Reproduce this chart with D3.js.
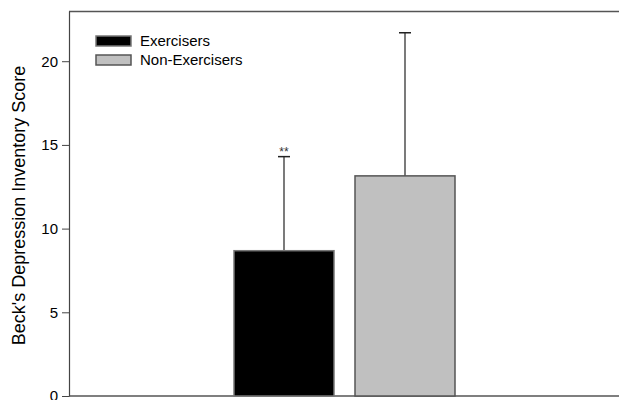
<!DOCTYPE html>
<html>
<head>
<meta charset="utf-8">
<script src="https://cdn.jsdelivr.net/npm/d3@7"></script>
<style>
  html, body { margin: 0; padding: 0; background: #fff; }
  svg { display: block; font-family: Arial, "Liberation Sans", sans-serif; }
</style>
</head>
<body>
<svg id="chart" width="619" height="400"></svg>
<script>
const categories = ["Exercisers", "Non-Exercisers"];
const means = [8.68, 13.15];
const sdUpper = [14.3, 21.7];
const annotations = ["**", ""];
const yTicks = [0, 5, 10, 15, 20];
const fills = ["#000000", "#c0c0c0"];
const strokes = ["#777777", "#555555"];

(function () {
const svg = d3.select("#chart");
const mLeft = 69, mRight = 619, mTop = 11, mBottom = 396;

const y = d3.scaleLinear().domain([0, 23]).range([mBottom, mTop]);
const x = d3.scaleBand().domain(categories).range([234, 455]).paddingInner(21 / 121).paddingOuter(0);

// frame: top line
svg.append("line").attr("x1", mLeft).attr("x2", mRight).attr("y1", mTop + 0.5).attr("y2", mTop + 0.5)
  .attr("stroke", "#555").attr("stroke-width", 1.5);
// bottom line
svg.append("line").attr("x1", mLeft).attr("x2", mRight).attr("y1", mBottom).attr("y2", mBottom)
  .attr("stroke", "#555").attr("stroke-width", 1.5);

// y axis
const yAxis = d3.axisLeft(y).tickValues(yTicks).tickSizeInner(7).tickSizeOuter(0).tickPadding(4);
const gy = svg.append("g").attr("transform", `translate(${mLeft},0)`).call(yAxis);
gy.select(".domain").attr("stroke", "#444").attr("stroke-width", 1.2);
gy.selectAll(".tick line").attr("stroke", "#444").attr("stroke-width", 1);
gy.selectAll(".tick text").attr("font-size", 15).attr("fill", "#000").attr("font-family", "Arial, 'Liberation Sans', sans-serif");

// y title
svg.append("text")
  .attr("transform", `translate(25,${(mTop + mBottom) / 2 + 2}) rotate(-90)`)
  .attr("text-anchor", "middle")
  .attr("font-size", 18)
  .attr("fill", "#000")
  .text("Beck's Depression Inventory Score");

const data = categories.map((c, i) => ({c, m: means[i], u: sdUpper[i], a: annotations[i], f: fills[i], s: strokes[i]}));
const cx = d => x(d.c) + x.bandwidth() / 2;

svg.selectAll(".err").data(data).enter().append("line")
  .attr("x1", cx).attr("x2", cx)
  .attr("y1", d => y(d.m)).attr("y2", d => y(d.u))
  .attr("stroke", "#222").attr("stroke-width", 1.2);
svg.selectAll(".cap").data(data).enter().append("line")
  .attr("x1", d => cx(d) - 6).attr("x2", d => cx(d) + 6)
  .attr("y1", d => y(d.u)).attr("y2", d => y(d.u))
  .attr("stroke", "#222").attr("stroke-width", 1.5);

svg.selectAll(".bar").data(data).enter().append("rect")
  .attr("x", d => x(d.c)).attr("width", x.bandwidth())
  .attr("y", d => y(d.m)).attr("height", d => y(0) - y(d.m))
  .attr("fill", d => d.f).attr("stroke", d => d.s).attr("stroke-width", 1.5);

svg.selectAll(".ann").data(data.filter(d => d.a)).enter().append("text")
  .attr("x", cx).attr("y", d => y(d.u) - 1)
  .attr("text-anchor", "middle").attr("font-size", 12).attr("fill", "#333")
  .text(d => d.a);

// legend
const lg = svg.append("g").attr("transform", "translate(96,36)");
categories.forEach((c, i) => {
  lg.append("rect").attr("x", 0).attr("y", i * 19).attr("width", 35).attr("height", 10)
    .attr("fill", fills[i]).attr("stroke", strokes[i]).attr("stroke-width", 1.5);
  lg.append("text").attr("x", 44).attr("y", i * 19 + 10).attr("font-size", 15).attr("fill", "#000").text(c);
});
})();
</script>
</body>
</html>
